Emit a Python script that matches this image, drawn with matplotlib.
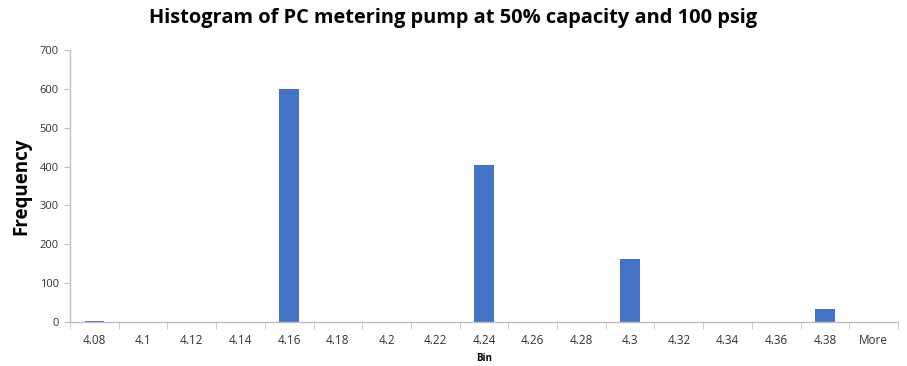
import matplotlib
matplotlib.use("Agg")
import matplotlib.pyplot as plt
import numpy as np

bins = ["4.08", "4.1", "4.12", "4.14", "4.16", "4.18", "4.2", "4.22", "4.24",
        "4.26", "4.28", "4.3", "4.32", "4.34", "4.36", "4.38", "More"]
frequency = [2, 0, 0, 0, 600, 0, 0, 0, 404, 0, 0, 161, 0, 0, 0, 33, 0]
y_ticks = [0, 100, 200, 300, 400, 500, 600, 700]

plt.rcParams["font.family"] = ["Open Sans", "DejaVu Sans"]

fig = plt.figure(figsize=(9.07, 3.66), dpi=100)
ax = fig.add_axes([70 / 907, 1 - 322 / 366, 828 / 907, 272 / 366])

x = np.arange(len(bins))
ax.bar(x, frequency, width=0.4, color="#4472C4")

ax.set_xlim(-0.5, len(bins) - 0.5)
ax.set_ylim(0, 700)
ax.set_yticks(y_ticks)
ax.set_yticklabels([str(v) for v in y_ticks], fontsize=8, color="#333333")

ax.set_xticks(x)
ax.set_xticklabels(bins, fontsize=8.5, color="#333333")
ax.tick_params(axis="x", length=0, pad=9)
ax.set_xticks(np.arange(-0.5, len(bins)), minor=True)
ax.tick_params(axis="x", which="minor", length=5, color="#BFBFBF")
ax.tick_params(axis="y", length=4, color="#BFBFBF", pad=4)

for side in ("top", "right"):
    ax.spines[side].set_visible(False)
for side in ("left", "bottom"):
    ax.spines[side].set_color("#BFBFBF")
    ax.spines[side].set_linewidth(1.0)

ax.set_ylabel("Frequency", fontsize=13.5, fontweight="bold", labelpad=6)
ax.set_xlabel("Bin", fontsize=7, fontweight="bold", labelpad=4)
fig.text(0.5, 1 - 18 / 366, "Histogram of PC metering pump at 50% capacity and 100 psig",
         ha="center", va="center", fontsize=14.4, fontweight="bold")

fig.savefig("out.png", dpi=100)
